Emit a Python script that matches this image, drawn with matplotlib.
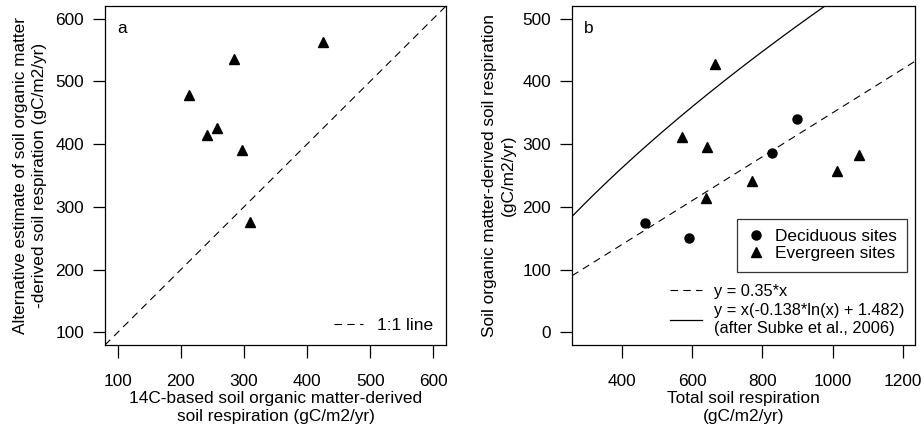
import numpy as np
import matplotlib
matplotlib.use("Agg")
import matplotlib.pyplot as plt
from matplotlib.lines import Line2D

plt.rcParams['font.family'] = ['Liberation Sans', 'DejaVu Sans']

# Panel a data
a_x = [213, 242, 257, 284, 297, 310, 425]
a_y = [478, 415, 425, 535, 390, 276, 563]
a_ticks = [100, 200, 300, 400, 500, 600]

# Panel b data
dec_x = [465, 592, 828, 897]
dec_y = [175, 150, 286, 340]
eve_x = [571, 643, 666, 640, 770, 1011, 1075]
eve_y = [311, 296, 428, 214, 242, 257, 283]
b_xticks = [400, 600, 800, 1000, 1200]
b_yticks = [0, 100, 200, 300, 400, 500]
slope = 0.35
subke_a = -0.138
subke_b = 1.482

FS = 12.4
FS2 = 11.8
DASH = (0, (6.7, 4.8))

fig = plt.figure(figsize=(9.24, 4.32), dpi=100)
axa = fig.add_axes([105/924, 1-345/432, (446-105)/924, (345-6)/432])
axb = fig.add_axes([572/924, 1-345/432, (915-572)/924, (345-6)/432])

def style(ax):
    for s in ax.spines.values():
        s.set_linewidth(0.9)
        s.set_color('black')
    ax.tick_params(direction='out', length=9, width=0.9, labelsize=FS, color='black')
    ax.tick_params(axis='x', pad=12)
    ax.tick_params(axis='y', pad=6)

# Panel a
axa.set_xlim(80, 620)
axa.set_ylim(80, 620)
lim = np.array([80, 620])
axa.plot(lim, lim, color='black', lw=0.8, linestyle=DASH)
axa.plot(a_x, a_y, linestyle='none', marker='^', color='black', ms=7.5)
axa.set_xticks(a_ticks)
axa.set_yticks(a_ticks)
style(axa)
axa.set_xlabel('14C-based soil organic matter-derived\nsoil respiration (gC/m2/yr)', fontsize=FS, labelpad=1, linespacing=1.3)
axa.set_ylabel('Alternative estimate of soil organic matter\n-derived soil respiration (gC/m2/yr)', fontsize=FS, labelpad=6, linespacing=1.3)
axa.text(0.035, 0.955, 'a', transform=axa.transAxes, fontsize=FS, va='top', ha='left')
axa.legend([Line2D([], [], color='black', lw=0.8, linestyle=DASH)], ['1:1 line'],
           loc='lower right', frameon=False, fontsize=FS, handlelength=1.7,
           handletextpad=0.8, bbox_to_anchor=(0.997, 0.0), borderaxespad=0.3)

# Panel b
xlo, xhi = 258, 1234
axb.set_xlim(xlo, xhi)
axb.set_ylim(-20, 520)
xx = np.linspace(xlo, xhi, 300)
axb.plot(xx, slope*xx, color='black', lw=0.8, linestyle=DASH)
axb.plot(xx, xx*(subke_a*np.log(xx) + subke_b), color='black', lw=0.9)
axb.plot(dec_x, dec_y, linestyle='none', marker='o', color='black', ms=6.5)
axb.plot(eve_x, eve_y, linestyle='none', marker='^', color='black', ms=7.5)
axb.set_xticks(b_xticks)
axb.set_yticks(b_yticks)
style(axb)
axb.set_xlabel('Total soil respiration\n(gC/m2/yr)', fontsize=FS, labelpad=1, linespacing=1.3)
axb.set_ylabel('Soil organic matter-derived soil respiration\n(gC/m2/yr)', fontsize=FS, labelpad=5, linespacing=1.3)
axb.text(0.035, 0.955, 'b', transform=axb.transAxes, fontsize=FS, va='top', ha='left')

leg1 = axb.legend([Line2D([], [], linestyle='none', marker='o', color='black', ms=6.5),
                   Line2D([], [], linestyle='none', marker='^', color='black', ms=7.5)],
                  ['Deciduous sites', 'Evergreen sites'],
                  loc='upper right', bbox_to_anchor=((907-572)/343, (345-219)/339),
                  borderaxespad=0, fontsize=FS, frameon=True, fancybox=False,
                  edgecolor='black', handlelength=1.0, handletextpad=0.6,
                  labelspacing=0.1, borderpad=0.6)
leg1.get_frame().set_linewidth(0.9)
axb.add_artist(leg1)

axb.legend([Line2D([], [], color='black', lw=0.8, linestyle=DASH),
            Line2D([], [], color='black', lw=0.9)],
           ['y = 0.35*x', 'y = x(-0.138*ln(x) + 1.482)\n(after Subke et al., 2006)'],
           loc='upper left', bbox_to_anchor=((663-572)/343, (345-277)/339),
           borderaxespad=0, frameon=False, fontsize=FS2, handlelength=2.0,
           handletextpad=0.7, labelspacing=0.3)

fig.savefig('out.png', dpi=100)
